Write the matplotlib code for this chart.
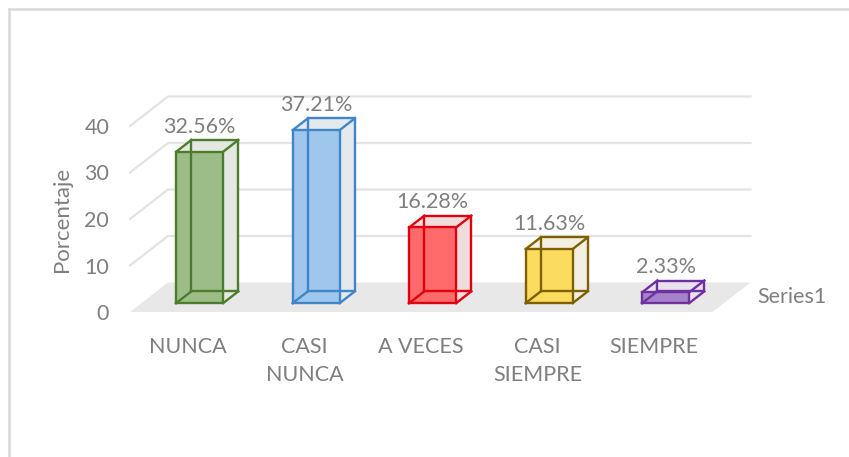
import matplotlib
matplotlib.use("Agg")
import matplotlib.pyplot as plt
from matplotlib.patches import Polygon
from matplotlib.lines import Line2D

plt.rcParams['font.family'] = ['Lato', 'DejaVu Sans']

categories = ['NUNCA', 'CASI\nNUNCA', 'A VECES', 'CASI\nSIEMPRE', 'SIEMPRE']
values = [32.56, 37.21, 16.28, 11.63, 2.33]
labels = ['32.56%', '37.21%', '16.28%', '11.63%', '2.33%']
yticks = [0, 10, 20, 30, 40]
series_name = 'Series1'

front_colors = ['#9dbd88', '#9fc7ee', '#ff6b6b', '#fcdc5f', '#a682cb']
edge_colors = ['#4e7c2f', '#3f85c7', '#e0000f', '#7f6000', '#7030a0']
side_colors = ['#e4e8e1', '#e4e9ee', '#f1dcdc', '#f3efe3', '#e7e2ed']
text_color = '#7f7f7f'
fs = 15.5

W, H = 849, 457
fig = plt.figure(figsize=(W / 100, H / 100), dpi=100)

# axes placed so that the front plane of the 3d box lines up with the picture
px_cat = 116.5
px_val = 4.65
x0_px, y0_px = 130, 312
left_lim = -0.5
right_lim = 4.95
top_lim = 48
ax = fig.add_axes([x0_px / W, (H - y0_px) / H,
                   (right_lim - left_lim) * px_cat / W, top_lim * px_val / H])
ax.set_xlim(left_lim, right_lim)
ax.set_ylim(0, top_lim)
for s in ax.spines.values():
    s.set_visible(False)
ax.patch.set_alpha(0)

# depth of the floor in data units
dxd = 38 / px_cat
dyd = 29.5 / px_val
n = len(values)
fl, fr = -0.5, n - 0.5

# floor
ax.add_patch(Polygon([(fl, 0), (fr, 0), (fr + dxd, dyd), (fl + dxd, dyd)],
                     closed=True, fc='#e8e8e8', ec='none', zorder=1, clip_on=False))

# gridlines on left and back walls
for t in yticks[1:]:
    ax.plot([fl, fl + dxd, fr + dxd], [t, t + dyd, t + dyd], color='#e3e3e3',
            lw=1.6, zorder=0.5, clip_on=False, solid_joinstyle='miter')

# bars as wireframe boxes
w = 47 / px_cat
d0, d1 = 0.3, 0.7
for i, v in enumerate(values):
    xl = i + d0 * dxd - w / 2
    xr = xl + w
    yb = d0 * dyd
    yt = yb + v
    ox = (d1 - d0) * dxd
    oy = (d1 - d0) * dyd
    ec = edge_colors[i]
    # side and top faces
    ax.add_patch(Polygon([(xr, yb), (xr + ox, yb + oy), (xr + ox, yt + oy), (xr, yt)],
                         fc=side_colors[i], ec='none', zorder=2, clip_on=False))
    ax.add_patch(Polygon([(xl, yt), (xr, yt), (xr + ox, yt + oy), (xl + ox, yt + oy)],
                         fc=side_colors[i], ec='none', zorder=2, clip_on=False))
    # front face
    ax.add_patch(Polygon([(xl, yb), (xr, yb), (xr, yt), (xl, yt)],
                         fc=front_colors[i], ec='none', zorder=3, clip_on=False))
    edges = [
        ([xl, xr, xr, xl, xl], [yb, yb, yt, yt, yb]),
        ([xl + ox, xr + ox, xr + ox, xl + ox, xl + ox],
         [yb + oy, yb + oy, yt + oy, yt + oy, yb + oy]),
        ([xl, xl + ox], [yb, yb + oy]),
        ([xr, xr + ox], [yb, yb + oy]),
        ([xl, xl + ox], [yt, yt + oy]),
        ([xr, xr + ox], [yt, yt + oy]),
    ]
    for ex, ey in edges:
        ax.plot(ex, ey, color=ec, lw=1.7, zorder=4, clip_on=False,
                solid_joinstyle='miter')
    ax.text(i + d0 * dxd, yt + oy + 0.7, labels[i], ha='center', va='bottom',
            fontsize=fs, color=text_color, zorder=5)

# axes ticks
ax.set_yticks(yticks)
ax.set_yticklabels([str(t) for t in yticks])
ax.set_xticks(range(n))
ax.set_xticklabels(categories, linespacing=1.5, va='top')
ax.tick_params(axis='y', length=0, pad=15, labelsize=fs, labelcolor=text_color)
ax.tick_params(axis='x', length=0, pad=18, labelsize=fs, labelcolor=text_color)

ax.set_ylabel('Porcentaje', fontsize=fs + 0.5, color=text_color)
ax.yaxis.set_label_coords((72 - x0_px) / (ax.get_position().width * W), 19.8 / top_lim)

ax.text(fr + dxd + 0.06, dyd / 2, series_name, ha='left', va='center',
        fontsize=fs, color=text_color, clip_on=False)

# chart border (only left and top visible)
fig.add_artist(Line2D([9 / W, 9 / W], [0, 1 - 9 / H], color='#d9d9d9', lw=1.8,
                      transform=fig.transFigure))
fig.add_artist(Line2D([9 / W, 1], [1 - 9 / H, 1 - 9 / H], color='#d9d9d9', lw=1.8,
                      transform=fig.transFigure))

fig.savefig('out.png', dpi=100, facecolor='white')
